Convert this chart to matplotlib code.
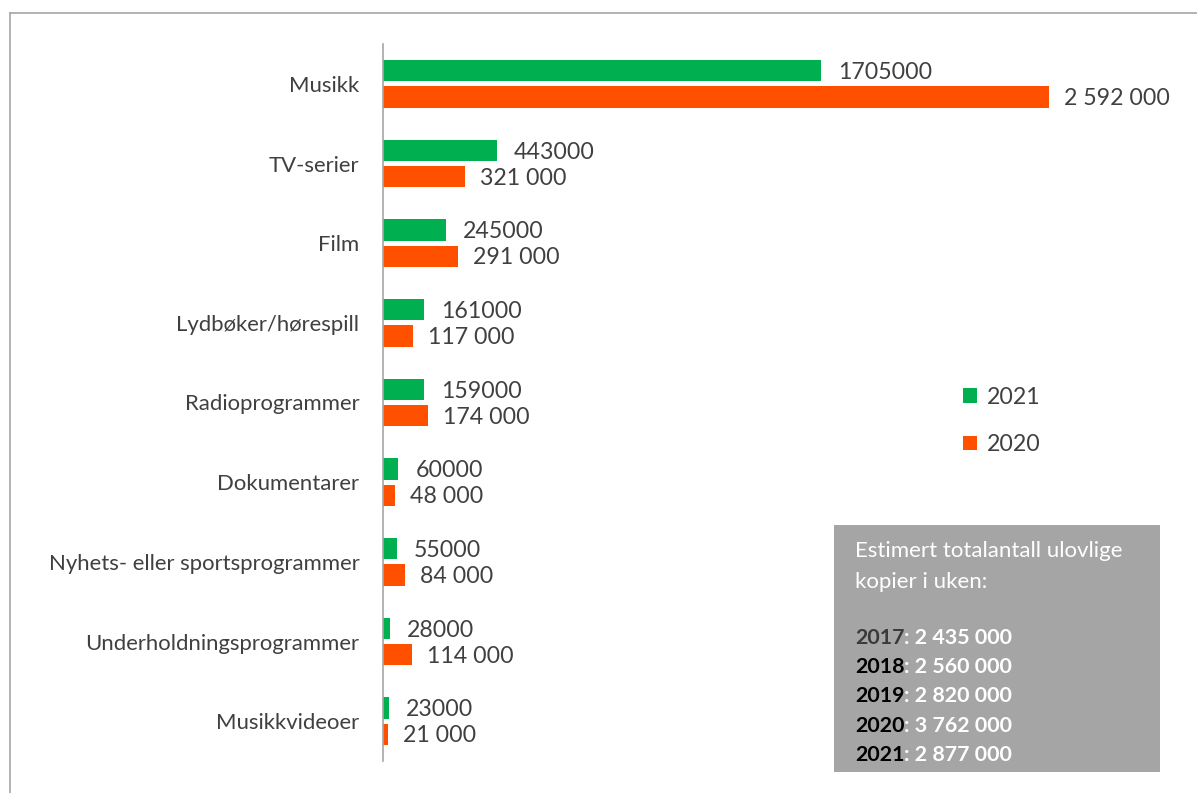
import matplotlib.pyplot as plt
from matplotlib.lines import Line2D
from matplotlib.patches import Rectangle

plt.rcParams['font.family'] = ['Lato', 'DejaVu Sans']

categories = ['Musikk', 'TV-serier', 'Film', 'Lydbøker/hørespill', 'Radioprogrammer',
              'Dokumentarer', 'Nyhets- eller sportsprogrammer',
              'Underholdningsprogrammer', 'Musikkvideoer']
v2021 = [1705000, 443000, 245000, 161000, 159000, 60000, 55000, 28000, 23000]
v2020 = [2592000, 321000, 291000, 117000, 174000, 48000, 84000, 114000, 21000]
lab2021 = ['1705000', '443000', '245000', '161000', '159000', '60000', '55000', '28000', '23000']
lab2020 = ['2 592 000', '321 000', '291 000', '117 000', '174 000', '48 000', '84 000', '114 000', '21 000']
box_title = ['Estimert totalantall ulovlige', 'kopier i uken:']
tot_years = ['2017', '2018', '2019', '2020', '2021']
tot_values = ['2 435 000', '2 560 000', '2 820 000', '3 762 000', '2 877 000']

green = '#00B050'
orange = '#FF5000'
txt = '#404040'

W, H = 1197, 793
fig = plt.figure(figsize=(W / 100, H / 100), dpi=100)

# axes spans x 383..1049 px, y 44..761 px
ax = fig.add_axes([383 / W, 1 - 761 / H, (1049 - 383) / W, 717 / H])
y = list(range(len(categories)))
bh = 0.265
off = 0.165
b1 = ax.barh([i - off for i in y], v2021, height=bh, color=green, label='2021')
b2 = ax.barh([i + off for i in y], v2020, height=bh, color=orange, label='2020')
ax.set_xlim(0, 2592000)
ax.set_ylim(len(categories) - 0.5, -0.5)

for i in y:
    ax.annotate(lab2021[i], (v2021[i], i - off), xytext=(12.2, -1.2), textcoords='offset points',
                va='center', ha='left', fontsize=16.7, color=txt, clip_on=False)
    ax.annotate(lab2020[i], (v2020[i], i + off), xytext=(10.8, -1.0), textcoords='offset points',
                va='center', ha='left', fontsize=16.7, color=txt, clip_on=False)

ax.set_yticks(y)
ax.set_yticklabels(categories, fontsize=15.9, color=txt)
ax.tick_params(axis='y', length=0, pad=17)
ax.set_xticks([])
for s in ['top', 'right', 'bottom']:
    ax.spines[s].set_visible(False)
ax.spines['left'].set_color('#A6A6A6')
ax.spines['left'].set_linewidth(1.2)

fig.legend(handles=[b1, b2], labels=['2021', '2020'], loc='upper left',
           bbox_to_anchor=(951 / W, 1 - 375 / H), frameon=False, fontsize=16.7,
           handlelength=0.6, handleheight=0.6, handletextpad=0.45, labelspacing=1.15,
           labelcolor=txt, borderpad=0)

# grey box
fig.patches.append(Rectangle((834 / W, 1 - 772 / H), (1160 - 834) / W, (772 - 525) / H,
                             transform=fig.transFigure, facecolor='#A5A5A5', edgecolor='none'))
fig.text(855 / W, 1 - 551 / H, box_title[0], color='white', fontsize=16, va='center')
fig.text(855 / W, 1 - 582 / H, box_title[1], color='white', fontsize=16, va='center')
renderer = fig.canvas.get_renderer()
for k, (yr, val) in enumerate(zip(tot_years, tot_values)):
    yy = 1 - (638 + k * 29.2) / H
    t = fig.text(855 / W, yy, yr, color='#3A3A3A' if k == 0 else 'black',
                 fontsize=15.4, fontweight='bold', va='center')
    bb = t.get_window_extent(renderer)
    fig.text(bb.x1 / W, yy, ': ' + val, color='white', fontsize=15.4, fontweight='bold', va='center')

# outer frame (top and left edges)
fig.add_artist(Line2D([10 / W, 1], [1 - 13 / H, 1 - 13 / H], transform=fig.transFigure,
                      color='#A6A6A6', lw=1.2))
fig.add_artist(Line2D([10 / W, 10 / W], [0, 1 - 13 / H], transform=fig.transFigure,
                      color='#A6A6A6', lw=1.2))

fig.savefig('out.png', dpi=100)
